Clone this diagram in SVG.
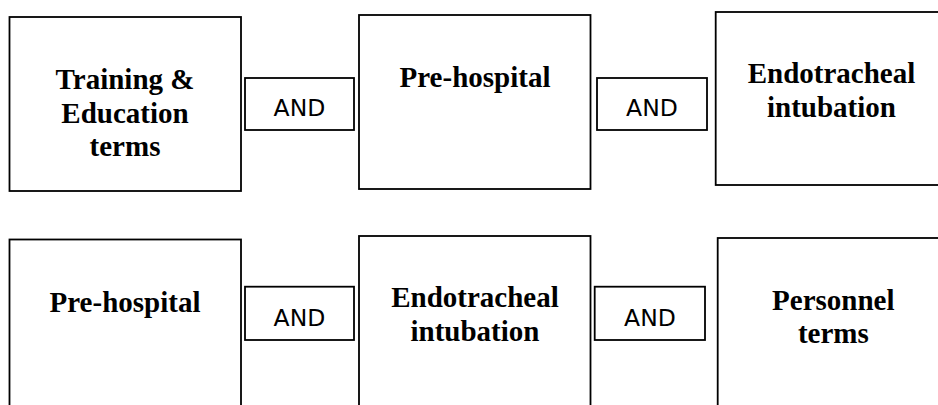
<svg xmlns="http://www.w3.org/2000/svg" width="938" height="405" viewBox="0 0 938 405">
<style>
.box{fill:#fff;stroke:#000;stroke-width:1.8}
.t{font-family:"Liberation Serif","Times New Roman",serif;font-weight:bold;font-size:29px;text-anchor:middle;fill:#000}
.a{font-family:"DejaVu Sans","Liberation Sans",sans-serif;font-size:23.5px;text-anchor:middle;fill:#000}
</style>
<rect width="938" height="405" fill="#fff"/>
<g id="connectors"></g>
<g id="n1"><rect class="box" x="9.5" y="17" width="231.5" height="174"/>
<text class="t" x="125" y="89">Training &amp;</text><text class="t" x="125" y="123">Education</text><text class="t" x="125" y="156">terms</text></g>
<g id="and1"><rect class="box" x="245" y="78" width="109" height="52"/><text class="a" x="299.5" y="116">AND</text></g>
<g id="n2"><rect class="box" x="359" y="15" width="231.5" height="174"/><text class="t" x="475" y="87">Pre-hospital</text></g>
<g id="and2"><rect class="box" x="597" y="78" width="110" height="52"/><text class="a" x="652" y="116">AND</text></g>
<g id="n3"><rect class="box" x="715.7" y="12" width="240" height="173"/>
<text class="t" x="831.5" y="83">Endotracheal</text><text class="t" x="831.5" y="117">intubation</text></g>
<g id="n4"><rect class="box" x="9.5" y="239.5" width="231.5" height="200"/><text class="t" x="125" y="312">Pre-hospital</text></g>
<g id="and3"><rect class="box" x="245" y="286.7" width="109" height="53.3"/><text class="a" x="299.5" y="326">AND</text></g>
<g id="n5"><rect class="box" x="359" y="236" width="231.5" height="200"/>
<text class="t" x="475" y="307">Endotracheal</text><text class="t" x="475" y="341">intubation</text></g>
<g id="and4"><rect class="box" x="594.7" y="286.7" width="110.3" height="53.3"/><text class="a" x="650" y="326">AND</text></g>
<g id="n6"><rect class="box" x="717.7" y="238" width="240" height="200"/>
<text class="t" x="833.3" y="310">Personnel</text><text class="t" x="833.3" y="343">terms</text></g>
</svg>
